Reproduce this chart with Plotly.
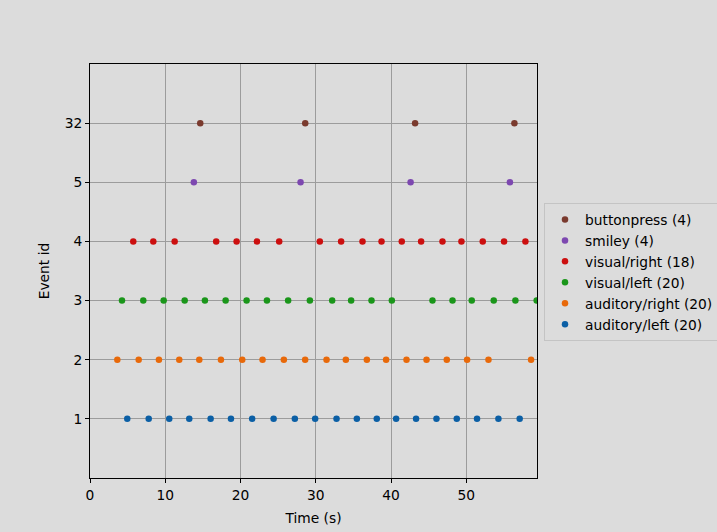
import plotly.graph_objects as go

event_names = ["auditory/left", "auditory/right", "visual/left", "visual/right", "smiley", "buttonpress"]
event_ids = [1, 2, 3, 4, 5, 32]
y_tick_labels = ["1", "2", "3", "4", "5", "32"]

auditory_left = [4.95, 7.80, 10.53, 13.19, 16.03, 18.73, 21.55, 24.40, 27.22, 29.92,
                 32.76, 35.46, 38.11, 40.68, 43.33, 46.04, 48.74, 51.43, 54.27, 57.10]
auditory_right = [3.63, 6.47, 9.16, 11.86, 14.52, 17.40, 20.23, 22.93, 25.76, 28.59,
                  31.43, 34.00, 36.79, 39.35, 42.06, 44.72, 47.41, 50.11, 52.95, 58.61]
visual_left = [4.25, 7.08, 9.79, 12.58, 15.27, 18.02, 20.81, 23.51, 26.33, 29.22,
               32.18, 34.70, 37.41, 40.11, 45.51, 48.17, 50.73, 53.65, 56.53, 59.36]
visual_right = [5.75, 8.41, 11.25, 16.77, 19.48, 22.18, 25.14, 30.54, 33.37, 36.21,
                38.74, 41.43, 44.00, 46.84, 49.36, 52.19, 55.02, 57.86]
smiley = [13.80, 27.98, 42.60, 55.80]
buttonpress = [14.65, 28.60, 43.20, 56.40]

series = [auditory_left, auditory_right, visual_left, visual_right, smiley, buttonpress]
colors = ["#0b5fa5", "#e8690a", "#1a961a", "#cc0f0f", "#7d48b0", "#7a3a2e"]

fig = go.Figure()
for i, (name, times, color) in enumerate(zip(event_names, series, colors)):
    fig.add_trace(go.Scatter(
        x=times, y=[i + 1] * len(times), mode="markers",
        name=f"{name} ({len(times)})",
        marker=dict(color=color, size=6.5, line=dict(width=0)),
    ))

bg = "#dcdcdc"
fs = 13.8
title_font = dict(family="DejaVu Sans", size=13.8, color="black")
fig.update_layout(
    width=717, height=532,
    paper_bgcolor=bg, plot_bgcolor=bg,
    margin=dict(l=90, r=180, t=64, b=54, autoexpand=False),
    font=dict(family="DejaVu Sans", size=fs, color="black"),
    showlegend=True,
    legend=dict(
        xref="container", yref="container",
        x=544 / 717, y=1 - 272 / 532, xanchor="left", yanchor="middle",
        traceorder="reversed",
        bgcolor=bg, bordercolor="#c4c4c4", borderwidth=1,
        font=dict(family="DejaVu Sans", size=fs),
        itemsizing="trace", tracegroupgap=0, itemwidth=30,
    ),
    xaxis=dict(
        range=[0, 59.4], tickmode="array", tickvals=[0, 10, 20, 30, 40, 50],
        showgrid=True, gridcolor="#9c9c9c", gridwidth=1,
        showline=True, linecolor="black", linewidth=1, mirror=True,
        ticks="outside", ticklen=4, tickcolor="black",
        tickfont=dict(family="DejaVu Sans", size=fs, color="black"),
        zeroline=False, automargin=False,
        title=dict(text="Time (s)", standoff=11, font=title_font),
    ),
    yaxis=dict(
        range=[0, 7], tickmode="array", tickvals=[1, 2, 3, 4, 5, 6], ticktext=y_tick_labels,
        showgrid=True, gridcolor="#9c9c9c", gridwidth=1,
        showline=True, linecolor="black", linewidth=1, mirror=True,
        ticks="outside", ticklen=4, tickcolor="black",
        tickfont=dict(family="DejaVu Sans", size=fs, color="black"),
        zeroline=False, automargin=False,
        title=dict(text="Event id", standoff=11, font=title_font),
    ),
)

fig.write_html(
    "out.html",
    config={"displayModeBar": False},
    post_script="document.body.style.margin='0';document.body.style.background='#dcdcdc';",
)
